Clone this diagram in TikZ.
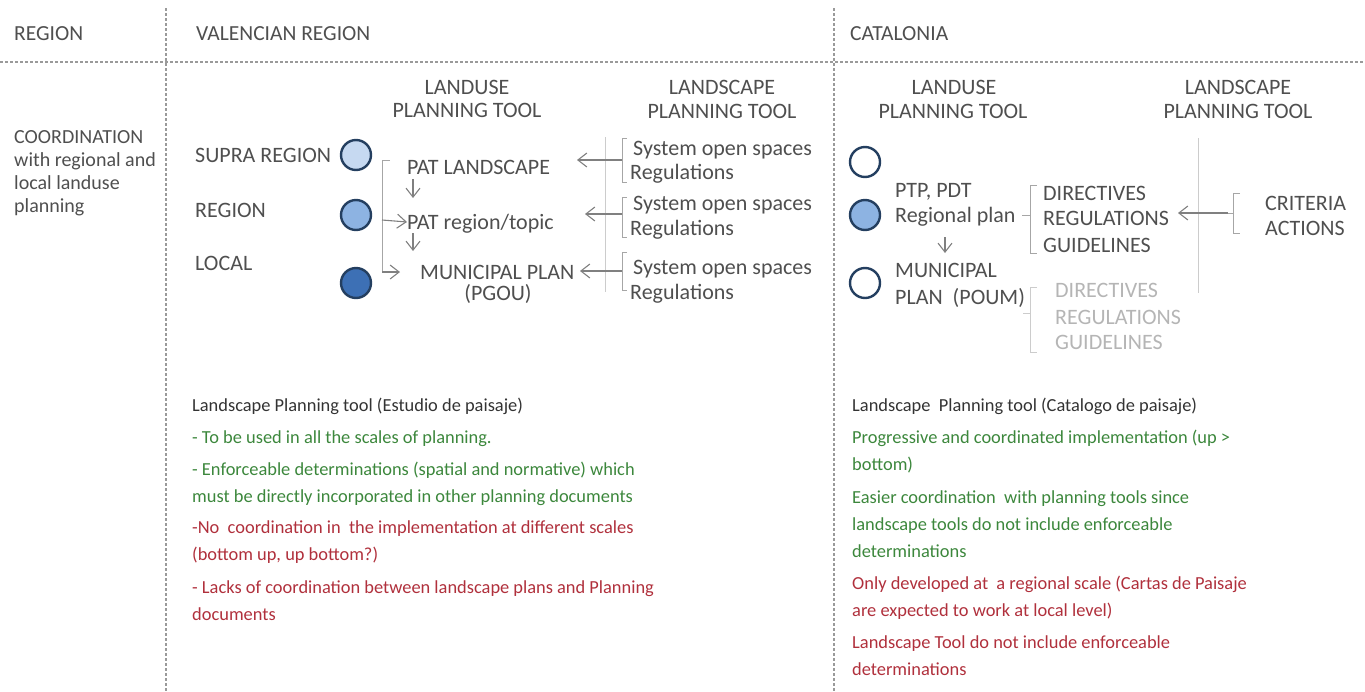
\documentclass[tikz,border=0pt]{standalone}
\usepackage{fontspec}
\setmainfont{Carlito}
\usetikzlibrary{arrows.meta}

\definecolor{txtgray}{HTML}{4F4F4F}
\definecolor{darktxt}{HTML}{333333}
\definecolor{palegray}{HTML}{B5B5B5}
\definecolor{divgray}{HTML}{9A9A9A}
\definecolor{bracegray}{HTML}{A6A6A6}
\definecolor{linegray}{HTML}{CCCCCC}
\definecolor{arrgray}{HTML}{808080}
\definecolor{okgreen}{HTML}{3C873C}
\definecolor{badred}{HTML}{B0303C}
\definecolor{paleblue}{HTML}{C6D9F1}
\definecolor{midblue}{HTML}{8DB3E2}
\definecolor{deepblue}{HTML}{3D70B5}
\definecolor{ringblue}{HTML}{243F60}

\begin{document}
\begin{tikzpicture}[x=1pt,y=-1pt,
  every node/.style={inner sep=0pt},
  lbl/.style={anchor=west,text=txtgray,text height=14pt,text depth=0pt,font=\fontsize{22}{26}\selectfont},
  ctr/.style={lbl,anchor=center},
  head/.style={lbl,font=\fontsize{21.5}{26}\selectfont},
  pale/.style={lbl,text=palegray},
  note/.style={anchor=base west,align=left,text=darktxt,font=\fontsize{18.4}{27}\selectfont},
  good/.style={note,text=okgreen},
  bad/.style={note,text=badred},
  divider/.style={draw=divgray,line width=1.2pt,dash pattern=on 3pt off 2pt},
  brace/.style={draw=bracegray,line width=1pt},
  pbrace/.style={draw=linegray,line width=1pt},
  arr/.style={draw=arrgray,line width=1.1pt,-{Straight Barb[length=9pt,width=14pt]}},
  lvl/.style={circle,draw=ringblue,line width=2.4pt,minimum size=30pt}]

\useasboundingbox (0,0) rectangle (1365,691);

% table frame
\draw[divider] (0,62) -- (1365,62);
\draw[divider] (166,8) -- (166,691);
\draw[divider] (834,8) -- (834,691);

\node[head] (hreg) at (14,33) {REGION};
\node[head] (hval) at (196,33) {VALENCIAN REGION};
\node[head] (hcat) at (850,33) {CATALONIA};

% base of a multi-line node sits on its last line
\node[anchor=base west,align=left,text=txtgray,font=\fontsize{20}{23}\selectfont] (coord) at (14,212)
  {COORDINATION\\with regional and\\local landuse\\planning};

% ---- Valencian region ----
\node[ctr] (vlu1) at (467,87) {LANDUSE};
\node[ctr] (vlu2) at (467,110) {PLANNING TOOL};
\node[ctr] (vls1) at (722,87) {LANDSCAPE};
\node[ctr] (vls2) at (722,111) {PLANNING TOOL};

\node[lbl] (supra) at (195,155) {SUPRA REGION};
\node[lbl] (regn) at (195,210) {REGION};
\node[lbl] (locl) at (195,263) {LOCAL};
\node[lvl,fill=paleblue] (c1) at (356,155) {};
\node[lvl,fill=midblue] (c2) at (356,215) {};
\node[lvl,fill=deepblue] (c3) at (356,283) {};

\node[lbl] (patland) at (407,167) {PAT LANDSCAPE};
\node[lbl] (patreg) at (407,222) {PAT region/topic};
\node[lbl] (munv) at (420,272) {MUNICIPAL PLAN};
\node[ctr] (pgou) at (498,293) {(PGOU)};

\draw[brace] (390,160) -- (382,160) -- (382,272) coordinate (lb);
\coordinate (lm) at (382,220);
\draw[arr] (lm) -- (patreg.west);
\draw[arr] (lb) -- ([xshift=-20pt]munv.west);
\coordinate (d1) at (413,179);
\coordinate (d2) at (413,233);
\draw[arr] (d1) -- ([yshift=-19pt]d1);
\draw[arr] (d2) -- ([yshift=-18pt]d2);

% landscape side
\draw[pbrace] (605,137) -- (605,292);
\draw[brace] (627,138) -- (622,138) -- (622,182) -- (627,182);
\draw[brace] (627,197) -- (622,197) -- (622,237) -- (627,237);
\draw[brace] (627,252) -- (622,252) -- (622,290) -- (627,290);
\coordinate (s1) at (622,160);
\coordinate (s2) at (622,214);
\coordinate (s3) at (622,271);
\draw[arr] (s1) -- ([xshift=-45pt]s1);
\draw[arr] (s2) -- ([xshift=-37pt]s2);
\draw[arr] (s3) -- ([xshift=-42pt]s3);

\node[lbl] (sys1) at (633,148) {System open spaces};
\node[lbl] (reg1) at (630,172) {Regulations};
\node[lbl] (sys2) at (633,203) {System open spaces};
\node[lbl] (reg2) at (630,228) {Regulations};
\node[lbl] (sys3) at (633,267) {System open spaces};
\node[lbl] (reg3) at (630,292) {Regulations};

% ---- Catalonia ----
\node[ctr] (clu1) at (954,87) {LANDUSE};
\node[ctr] (clu2) at (953,111) {PLANNING TOOL};
\node[ctr] (cls1) at (1238,87) {LANDSCAPE};
\node[ctr] (cls2) at (1238,111) {PLANNING TOOL};

\node[lvl,fill=white] (k1) at (865,162) {};
\node[lvl,fill=midblue] (k2) at (865,215) {};
\node[lvl,fill=white] (k3) at (865,283) {};

\node[lbl] (ptp) at (895,190) {PTP, PDT};
\node[lbl] (rplan) at (895,215) {Regional plan};
\node[lbl] (munc1) at (895,270) {MUNICIPAL};
\node[lbl] (munc2) at (895,297) {PLAN\ \ (POUM)};
\coordinate (d3) at (945,237);
\draw[arr] (d3) -- ([yshift=-16pt]d3);

\draw[brace] (1037,185) -- (1030,185) -- (1030,253) -- (1037,253);
\draw[brace] (1022,215) -- (1030,215);
\node[lbl] (dir1) at (1043,193) {DIRECTIVES};
\node[lbl] (rgl1) at (1043,218) {REGULATIONS};
\node[lbl] (gdl1) at (1043,245) {GUIDELINES};

\draw[pbrace] (1198,138) -- (1198,293);
\draw[brace] (1240,193) -- (1233,193) -- (1233,233) -- (1240,233);
\draw[brace] (1228,213) coordinate (s4) -- (1233,213);
\draw[arr] (s4) -- ([xshift=-50pt]s4);
\node[lbl] (crit) at (1265,203) {CRITERIA};
\node[lbl] (acts) at (1265,228) {ACTIONS};

\draw[pbrace] (1037,287) -- (1030,287) -- (1030,352) -- (1037,352);
\draw[pbrace] (1023,313) -- (1030,313);
\node[pale] (dir2) at (1055,290) {DIRECTIVES};
\node[pale] (rgl2) at (1055,317) {REGULATIONS};
\node[pale] (gdl2) at (1055,342) {GUIDELINES};

% ---- notes ----
\node[note] (vn0) at (192,411) {Landscape Planning tool (Estudio de paisaje)};
\node[good] (vn1) at (192,443) {- To be used in all the scales of planning.};
\node[good] (vn2) at (192,502) {- Enforceable determinations (spatial and normative) which\\must be directly incorporated in other planning documents};
\node[bad] (vn3) at (192,560) {-No\ \ coordination in\ \ the implementation at different scales\\(bottom up, up bottom?)};
\node[bad] (vn4) at (192,620) {- Lacks of coordination between landscape plans and Planning\\documents};

\node[note] (cn0) at (852,411) {Landscape\ \ Planning tool (Catalogo de paisaje)};
\node[good] (cn1) at (852,470) {Progressive and coordinated implementation (up >\\bottom)};
\node[good] (cn2) at (852,557) {Easier coordination\ \ with planning tools since\\landscape tools do not include enforceable\\determinations};
\node[bad] (cn3) at (852,616) {Only developed at\ \ a regional scale (Cartas de Paisaje\\are expected to work at local level)};
\node[bad] (cn4) at (852,675) {Landscape Tool do not include enforceable\\determinations};
\end{tikzpicture}
\end{document}
